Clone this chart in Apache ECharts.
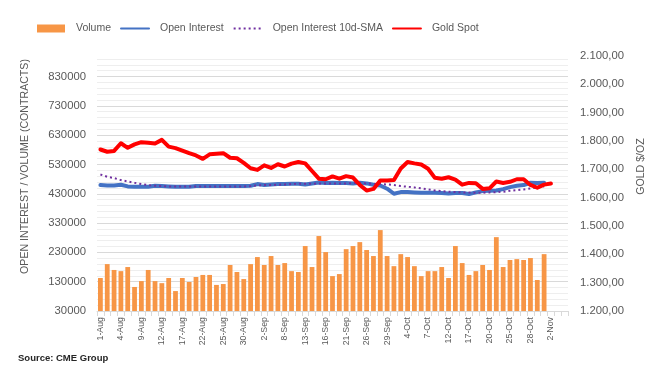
<!DOCTYPE html>
<html>
<head>
<meta charset="utf-8">
<script src="https://cdn.jsdelivr.net/npm/echarts@6/dist/echarts.min.js"></script>
<style>html,body{margin:0;padding:0;background:#fff;}#c{width:670px;height:379px;}</style>
</head>
<body>
<div id="c"></div>
<script>
var FONT = '"Liberation Sans",Arial,sans-serif';

var categories = [
  '1-Aug','2-Aug','3-Aug','4-Aug','5-Aug','8-Aug','9-Aug','10-Aug','11-Aug','12-Aug',
  '15-Aug','16-Aug','17-Aug','18-Aug','19-Aug','22-Aug','23-Aug','24-Aug','25-Aug','26-Aug',
  '29-Aug','30-Aug','31-Aug',
  '1-Sep','2-Sep','6-Sep','7-Sep','8-Sep','9-Sep','12-Sep','13-Sep','14-Sep','15-Sep','16-Sep',
  '19-Sep','20-Sep','21-Sep','22-Sep','23-Sep','26-Sep','27-Sep','28-Sep','29-Sep','30-Sep',
  '3-Oct','4-Oct','5-Oct','6-Oct','7-Oct','10-Oct','11-Oct','12-Oct','13-Oct','14-Oct',
  '17-Oct','18-Oct','19-Oct','20-Oct','21-Oct','24-Oct','25-Oct','26-Oct','27-Oct','28-Oct','31-Oct',
  '1-Nov','2-Nov','3-Nov','4-Nov'
];

var volume = [
  142500,190000,170000,166000,180000,112000,132000,170000,132000,125000,
  142500,98000,142500,129000,146000,153000,153000,119000,122000,187000,
  163000,139000,190000,214000,187000,217500,187000,193500,166000,163000,
  251600,180000,285700,231000,149000,156000,241000,251600,265000,238000,
  217500,306000,217500,183000,224000,214000,183000,149000,166000,166000,
  180000,142500,251600,193500,153000,166000,187000,170000,282000,180000,
  204000,207000,204000,210700,135700,224000
];

var openInterest = [
  459600,458400,458400,460700,455000,453900,453900,453900,457300,456100,
  455000,453900,453900,453900,456100,456100,456100,456100,456100,456100,
  456100,456100,457300,463000,459600,461800,463000,463000,464100,464100,
  461800,465300,468600,466400,467500,466400,466400,465300,467500,465300,
  460700,458400,447300,430000,435700,435700,434600,433400,433400,433400,
  432300,431200,432300,432300,428900,434600,439100,440200,441400,445900,
  452700,457300,459600,467500,466400,467500
];

var openInterestSMA = [
  495900,488000,483500,476600,472100,467500,463000,459600,457300,456100,
  455000,454500,454500,454500,454500,454500,454500,454500,455000,455000,
  455000,455000,456100,458400,459600,459600,460700,461800,463000,464100,
  464100,464100,465300,465300,465300,465300,465300,466400,466400,465300,
  464100,463000,461800,459600,456100,453900,451600,448200,444800,441400,
  439100,436900,435700,434600,434600,433400,433400,434600,435700,436900,
  440200,442500,444800,448200,451600,455000
];

var goldSpot = [
  1770,1762,1765,1792,1776,1788,1796,1794,1791,1804,
  1780,1775,1766,1757,1749,1737,1753,1755,1757,1741,
  1739,1723,1704,1698,1714,1705,1718,1710,1720,1726,
  1721,1694,1667,1665,1675,1667,1676,1671,1645,1625,
  1631,1661,1661,1662,1703,1726,1721,1717,1702,1670,
  1667,1672,1664,1646,1652,1651,1631,1633,1657,1652,
  1656,1665,1665,1645,1635,1646,1650
];

var leftTicks = { min: 30000, max: 900000, interval: 100000 };
var rightTicks = { min: 1200, max: 2100, interval: 100 };

function fmtGold(v) {
  var s = v.toFixed(2).split('.');
  var intPart = s[0].replace(/\B(?=(\d{3})+(?!\d))/g, '.');
  return intPart + ',' + s[1];
}

var chart = echarts.init(document.getElementById('c'), null, { renderer: 'canvas' });
var txt = '#595959';
var hideSym = { opacity: 0 };
chart.setOption({
  animation: false,
  backgroundColor: '#ffffff',
  textStyle: { fontFamily: FONT },
  title: {
    text: 'Source: CME Group',
    left: 18, top: 353, padding: 0,
    textStyle: { fontFamily: FONT, fontSize: 9.5, fontWeight: 'bold', color: '#262626' }
  },
  legend: {
    left: 37, top: 23, padding: 0,
    itemWidth: 28, itemHeight: 8, itemGap: 9,
    textStyle: { fontFamily: FONT, fontSize: 10.5, color: txt, padding: [0, 0, 0, 6] },
    data: [
      { name: 'Volume', icon: 'rect' },
      { name: 'Open Interest', itemStyle: hideSym },
      { name: 'Open Interest 10d-SMA', itemStyle: hideSym },
      { name: 'Gold Spot', itemStyle: hideSym }
    ]
  },
  grid: { left: 97, right: 102, top: 56, bottom: 68, containLabel: false, outerBoundsMode: 'none' },
  xAxis: {
    type: 'category',
    data: categories,
    boundaryGap: true,
    axisLine: { lineStyle: { color: '#D9D9D9', width: 1 } },
    axisTick: { show: true, interval: 0, length: 5, lineStyle: { color: '#D9D9D9' } },
    axisLabel: { interval: 2, rotate: 90, fontSize: 8.8, color: txt, fontFamily: FONT, margin: 6 },
    splitLine: { show: false }
  },
  yAxis: [
    {
      type: 'value',
      min: leftTicks.min, max: leftTicks.max, interval: leftTicks.interval,
      name: 'OPEN INTEREST / VOLUME (CONTRACTS)',
      nameLocation: 'middle', nameRotate: 90, nameGap: 66,
      nameTextStyle: { fontFamily: FONT, fontSize: 10.6, color: txt, padding: [0, 0, 0, 34] },
      axisLine: { show: false }, axisTick: { show: false },
      axisLabel: { color: txt, fontSize: 11.3, fontFamily: FONT, margin: 11, showMaxLabel: false,
        formatter: function (v) { return String(v); } },
      splitLine: { show: true, showMaxLine: false, lineStyle: { color: '#D9D9D9', width: 1 } },
      minorTick: { show: false, splitNumber: 5 },
      minorSplitLine: { show: true, lineStyle: { color: '#EEEEEE', width: 1 } }
    },
    {
      type: 'value',
      min: rightTicks.min, max: rightTicks.max, interval: rightTicks.interval,
      name: 'GOLD $/OZ',
      nameLocation: 'middle', nameRotate: 90, nameGap: 68,
      nameTextStyle: { fontFamily: FONT, fontSize: 10.6, color: txt, padding: [0, 0, 0, 34] },
      axisLine: { show: false }, axisTick: { show: false },
      axisLabel: { color: txt, fontSize: 11.3, fontFamily: FONT, margin: 12, formatter: fmtGold },
      splitLine: { show: false }
    }
  ],
  series: [
    {
      name: 'Volume', type: 'bar', yAxisIndex: 0,
      data: volume, barCategoryGap: '30%',
      itemStyle: { color: '#F79646' }, z: 1
    },
    {
      name: 'Open Interest', type: 'line', yAxisIndex: 0,
      data: openInterest, symbol: 'none',
      lineStyle: { color: '#4472C4', width: 4, cap: 'round', join: 'round' },
      itemStyle: { color: '#4472C4' }, z: 2
    },
    {
      name: 'Open Interest 10d-SMA', type: 'line', yAxisIndex: 0,
      data: openInterestSMA, symbol: 'none',
      lineStyle: { color: '#7030A0', width: 2, type: [2, 3], cap: 'butt' },
      itemStyle: { color: '#7030A0' }, z: 3
    },
    {
      name: 'Gold Spot', type: 'line', yAxisIndex: 1,
      data: goldSpot, symbol: 'none',
      lineStyle: { color: '#FF0000', width: 4, cap: 'round', join: 'round' },
      itemStyle: { color: '#FF0000' }, z: 4
    }
  ]
});
</script>
</body>
</html>
